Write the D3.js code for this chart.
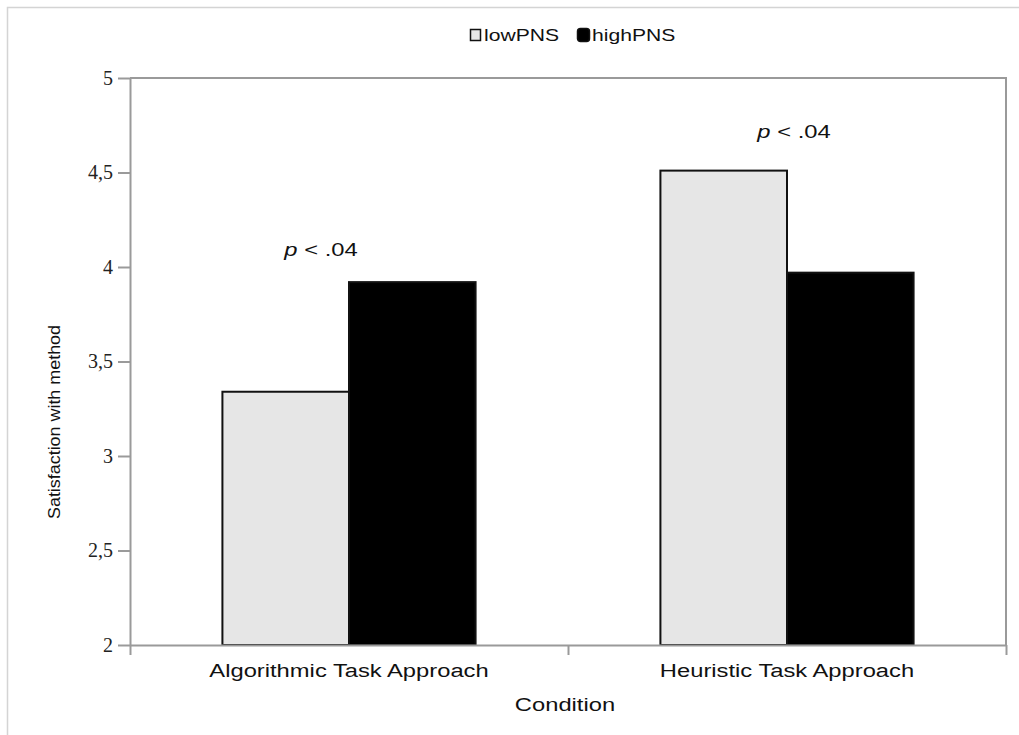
<!DOCTYPE html>
<html lang="en">
<head>
  <meta charset="UTF-8">
  <title>Satisfaction with method</title>
  <script src="https://d3js.org/d3.v7.min.js"></script>
  <style>
    body { margin: 0; background: #fff; }
    .axis path, .axis line { stroke: #9a9a9a; stroke-width: 2; }
    .sans { font-family: "Liberation Sans", Arial, sans-serif; fill: #111; }
  </style>
</head>
<body>
  <svg id="chart" width="1019" height="735"></svg>
  <script>
    const conditions = ["Algorithmic Task Approach", "Heuristic Task Approach"];
    const groups = ["lowPNS", "highPNS"];
    const lowPNS = [3.34, 4.51];
    const highPNS = [3.92, 3.97];
    const yTicks = [2, 2.5, 3, 3.5, 4, 4.5, 5];
    const annotations = ["p < .04", "p < .04"];
    const annotationY = [4.06, 4.68];
    const annotationDx = [-28, 7];
    const colors = { lowPNS: "#e6e6e6", highPNS: "#000000" };

    const svg = d3.select("svg#chart");
    const margins = { top: 78, right: 13, bottom: 90, left: 130 };
    const width = +svg.attr("width");
    const height = +svg.attr("height");
    const chartWidth = width - margins.left - margins.right;
    const chartHeight = height - margins.top - margins.bottom;
    const stretch = 1.32; // text in the original is drawn wide

    function wideText(parent, x, y, size, str, anchor) {
      return parent.append("text")
        .attr("class", "sans")
        .attr("transform", `translate(${x},${y}) scale(${stretch},1)`)
        .attr("text-anchor", anchor || "middle")
        .attr("font-size", size)
        .text(str);
    }

    // outer light frame
    svg.append("path")
      .attr("d", `M7.5,${height} V7.5 H${width}`)
      .attr("fill", "none")
      .attr("stroke", "#d4d4d4")
      .attr("stroke-width", 1.5);

    const chart = svg.append("g")
      .attr("transform", `translate(${margins.left},${margins.top})`);

    const xScale = d3.scaleBand().domain(conditions)
      .range([0, chartWidth])
      .paddingInner(0.422)
      .paddingOuter(0.211);
    const innerScale = d3.scaleBand().domain(groups)
      .range([0, xScale.bandwidth()]);
    const yScale = d3.scaleLinear().domain([2, 5]).range([chartHeight, 0]);

    // plot frame (top + right)
    chart.append("path")
      .attr("d", `M0,0 H${chartWidth} V${chartHeight}`)
      .attr("fill", "none")
      .attr("stroke", "#9a9a9a")
      .attr("stroke-width", 2);

    const rows = conditions.map((c, i) => ({ cond: c, lowPNS: lowPNS[i], highPNS: highPNS[i] }));

    const groupG = chart.selectAll("g.group")
      .data(rows)
      .join("g")
      .attr("class", "group")
      .attr("transform", d => `translate(${xScale(d.cond)},0)`);

    groupG.selectAll("rect")
      .data(d => groups.map(k => ({ key: k, value: d[k] })))
      .join("rect")
      .attr("x", d => innerScale(d.key))
      .attr("width", innerScale.bandwidth())
      .attr("y", d => yScale(d.value))
      .attr("height", d => yScale(2) - yScale(d.value))
      .attr("fill", d => colors[d.key])
      .attr("stroke", "#111")
      .attr("stroke-width", 2);

    // axes
    const leftAxis = d3.axisLeft(yScale)
      .tickValues(yTicks)
      .tickSize(12)
      .tickSizeOuter(0)
      .tickFormat(d => String(d).replace(".", ","));
    chart.append("g")
      .attr("class", "y axis")
      .attr("font-family", null)
      .attr("font-size", null)
      .call(leftAxis)
      .call(g => g.selectAll("text")
        .attr("dx", -2)
        .style("font-family", "'Liberation Serif', 'DejaVu Serif', serif")
        .style("font-size", "20px")
        .style("fill", "#222"));

    const xEdges = d3.scaleLinear().domain([0, 2]).range([0, chartWidth]);
    chart.append("g")
      .attr("class", "x axis")
      .attr("transform", `translate(0,${chartHeight})`)
      .call(d3.axisBottom(xEdges).tickValues([0, 1, 2]).tickSize(10).tickSizeOuter(0).tickFormat(""));

    conditions.forEach(c => {
      wideText(chart, xScale(c) + xScale.bandwidth() / 2, chartHeight + 32, 18, c);
    });

    // significance labels
    annotations.forEach((a, i) => {
      const t = wideText(chart, xScale(conditions[i]) + xScale.bandwidth() / 2 + annotationDx[i],
        yScale(annotationY[i]), 18, "");
      t.append("tspan").attr("font-style", "italic").text(a.slice(0, 1));
      t.append("tspan").text(a.slice(1));
    });

    wideText(svg, 565, 711, 18, "Condition");

    svg.append("text")
      .attr("class", "sans")
      .attr("transform", "translate(60,422) rotate(-90) scale(1.12,1)")
      .attr("text-anchor", "middle")
      .attr("font-size", 16)
      .text("Satisfaction with method");

    // legend
    const legend = svg.append("g").attr("transform", "translate(470,35)");
    const legendX = [0, 107];
    groups.forEach((k, i) => {
      const item = legend.append("g").attr("transform", `translate(${legendX[i]},0)`);
      item.append("rect")
        .attr("x", 0.5).attr("y", k === "highPNS" ? -6.5 : -5.5)
        .attr("width", k === "highPNS" ? 12 : 10).attr("height", k === "highPNS" ? 13 : 11)
        .attr("rx", k === "highPNS" ? 3 : 0)
        .attr("fill", colors[k])
        .attr("stroke", "#111")
        .attr("stroke-width", 1.5);
      wideText(item, k === "highPNS" ? 15 : 14, 6, 16, k, "start");
    });
  </script>
</body>
</html>
